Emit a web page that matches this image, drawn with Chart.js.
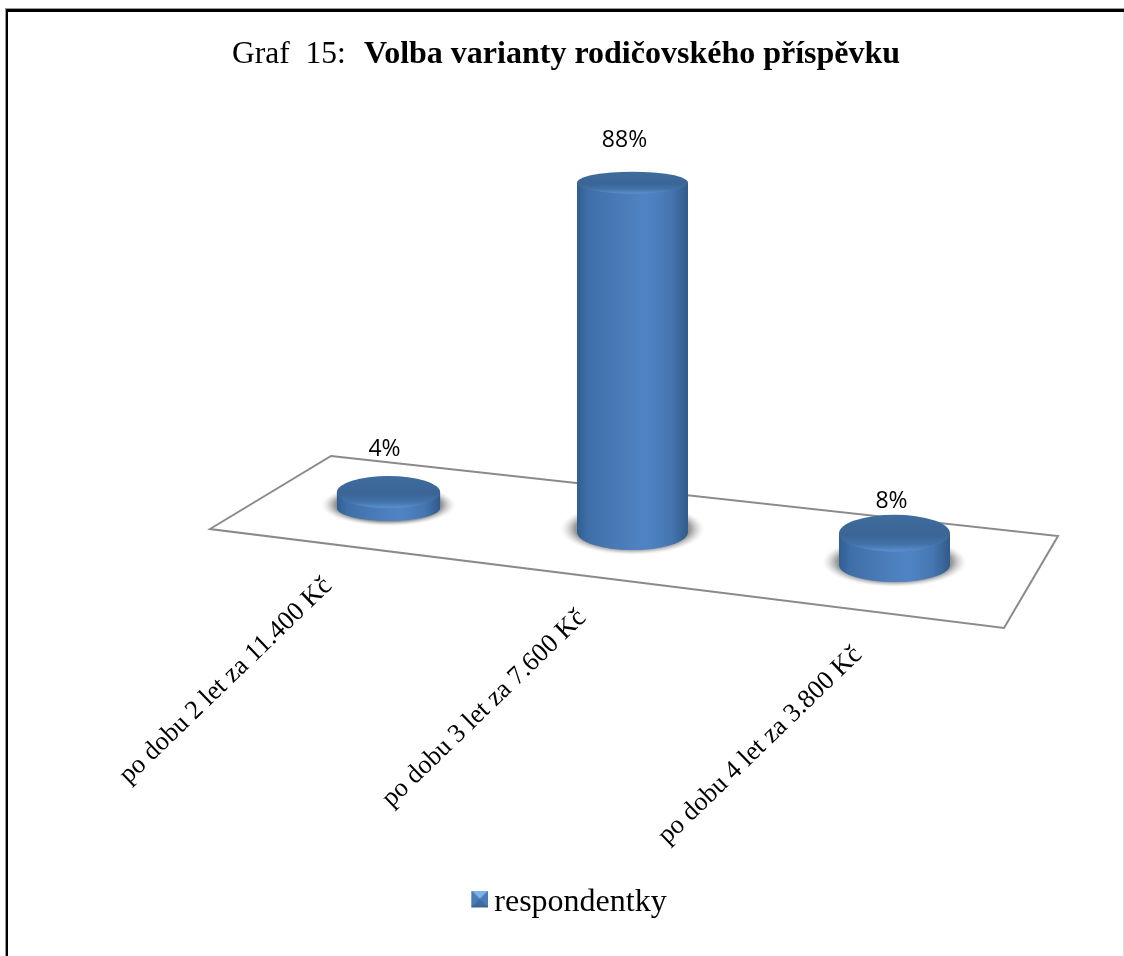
<!DOCTYPE html>
<html><head><meta charset="utf-8">
<style>html,body{margin:0;padding:0;background:#fff}canvas{display:block}</style>
<script src="https://cdn.jsdelivr.net/npm/chart.js@4"></script>
</head><body><canvas id="c" width="1124" height="956"></canvas>
<script>
const categories = ['po dobu 2 let za 11.400 Kč','po dobu 3 let za 7.600 Kč','po dobu 4 let za 3.800 Kč'];
const values = [4, 88, 8];
const valueLabels = ['4%', '88%', '8%'];
const seriesName = 'respondentky';
const titleNormal = 'Graf  15:';
const titleBold = 'Volba varianty rodičovského příspěvku';

// 3D projection of each category onto the floor (layout only)
const proj = [
  {dx:69.5, dy:-24, scale:.93, ryTop:16,   ryBase:13, lx:-4, ly:-43, tx:328, ty:582},
  {dx:60.5, dy:0,   scale:1,   ryTop:11,   ryBase:18, lx:-8, ly:-47, tx:582, ty:614},
  {dx:69.5, dy:33,  scale:1,   ryTop:18.5, ryBase:17, lx:-3, ly:-29, tx:858, ty:651}
];
const floor = [[331,456],[1058,536],[1004,628],[210,529]];

const marker = document.createElement('canvas');
marker.width = 21; marker.height = 25;
(function(){
  const m = marker.getContext('2d');
  m.translate(4,0);
  m.fillStyle='#4f81bd'; m.fillRect(0,0,17,17);
  const tri=(p,c)=>{m.fillStyle=c;m.beginPath();m.moveTo(p[0],p[1]);m.lineTo(p[2],p[3]);m.lineTo(8.5,8.5);m.closePath();m.fill();};
  tri([0,0,17,0],'#7fb2ea'); tri([0,0,0,17],'#4a7cb8'); tri([17,0,17,17],'#4a7cb8'); tri([0,17,17,17],'#3f6a9e');
  m.fillStyle='#3a6494'; m.fillRect(0,15,17,2);
})();

function cylinder(ctx, cx, top, base, rx, p){
  // contact shadow
  ctx.save();
  ctx.translate(cx, base-3);
  ctx.scale(rx*1.3, (p.ryBase+8));
  const sh = ctx.createRadialGradient(0,0,0.55,0,0,1);
  sh.addColorStop(0,'rgba(100,100,100,1)');
  sh.addColorStop(.55,'rgba(135,135,135,.85)');
  sh.addColorStop(1,'rgba(210,210,210,0)');
  ctx.fillStyle=sh;
  ctx.beginPath(); ctx.arc(0,0,1,0,Math.PI*2); ctx.fill();
  ctx.restore();
  // body
  const g = ctx.createLinearGradient(cx-rx,0,cx+rx,0);
  g.addColorStop(0,'#315e91'); g.addColorStop(.1,'#3f6fa8'); g.addColorStop(.35,'#4a7ab6');
  g.addColorStop(.62,'#4f84c4'); g.addColorStop(.85,'#4676b0'); g.addColorStop(1,'#315a8a');
  ctx.fillStyle=g;
  ctx.beginPath();
  ctx.moveTo(cx-rx,top);
  ctx.lineTo(cx-rx,base);
  ctx.ellipse(cx,base,rx,p.ryBase,0,Math.PI,0,true);
  ctx.lineTo(cx+rx,top);
  ctx.closePath();
  ctx.fill();
  // cap
  const c = ctx.createLinearGradient(0,top-p.ryTop,0,top+p.ryTop);
  c.addColorStop(0,'#3f6c9e'); c.addColorStop(.55,'#3a6595'); c.addColorStop(.8,'#4272a9');
  c.addColorStop(1,'#5b90d2');
  ctx.fillStyle=c;
  ctx.beginPath();
  ctx.ellipse(cx,top,rx,p.ryTop,0,0,Math.PI*2);
  ctx.fill();
}

const scene = {
  id:'scene',
  beforeDraw(chart){
    const ctx=chart.ctx;
    ctx.save();
    ctx.fillStyle='#fff'; ctx.fillRect(0,0,1124,956);
    ctx.fillStyle='#999'; ctx.fillRect(5,8,1119,1);
    ctx.fillStyle='#000'; ctx.fillRect(5,9,1119,3); ctx.fillRect(6,9,2,947);
    ctx.fillStyle='#999'; ctx.fillRect(5,9,1,947);
    ctx.fillStyle='#ddd'; ctx.fillRect(1123,12,1,944);
    ctx.restore();
  },
  beforeDatasetsDraw(chart){
    const ctx=chart.ctx;
    ctx.save();
    ctx.strokeStyle='#8a8a8a'; ctx.lineWidth=2; ctx.lineJoin='miter';
    ctx.beginPath();
    floor.forEach((q,i)=> i?ctx.lineTo(q[0],q[1]):ctx.moveTo(q[0],q[1]));
    ctx.closePath(); ctx.stroke();
    chart.getDatasetMeta(0).data.forEach((el,i)=>{
      const p=proj[i];
      cylinder(ctx, el.x+p.dx, el.y+p.dy, el.base+p.dy, el.width*p.scale/2, p);
      ctx.fillStyle='#000';
      ctx.font='23px "Open Sans"';
      ctx.textAlign='center'; ctx.textBaseline='middle';
      ctx.fillText(valueLabels[i], el.x+p.dx+p.lx, el.y+p.dy-p.ryTop+p.ly+16);
      ctx.save();
      ctx.translate(p.tx,p.ty); ctx.rotate(-44*Math.PI/180);
      ctx.font='26.4px "Liberation Serif"';
      ctx.textAlign='right';
      ctx.fillText(chart.data.labels[i],0,0);
      ctx.restore();
    });
    ctx.fillStyle='#000';
    ctx.textAlign='left'; ctx.textBaseline='alphabetic';
    ctx.font='31.5px "Liberation Serif"';
    ctx.fillText(titleNormal,232,63);
    ctx.font='bold 32px "Liberation Serif"';
    ctx.fillText(titleBold,364,63);
    ctx.restore();
    return false;
  }
};

new Chart(document.getElementById('c'),{
  type:'bar',
  data:{labels:categories,datasets:[{label:seriesName,data:values,backgroundColor:'#4f81bd',categoryPercentage:1,barPercentage:.4387}]},
  options:{
    responsive:false,animation:false,
    layout:{padding:{left:192.5,right:172.5,top:135,bottom:27}},
    scales:{
      x:{display:true,grid:{display:false},border:{display:false},ticks:{display:false},afterFit(s){s.height=345;}},
      y:{display:false,min:0,max:100}
    },
    plugins:{
      title:{display:false},tooltip:{enabled:false},
      legend:{display:true,position:'bottom',labels:{usePointStyle:true,pointStyle:marker,boxWidth:1,boxHeight:17,padding:10,color:'#000',font:{family:'"Liberation Serif"',size:32}}}
    }
  },
  plugins:[scene]
});
</script></body></html>
